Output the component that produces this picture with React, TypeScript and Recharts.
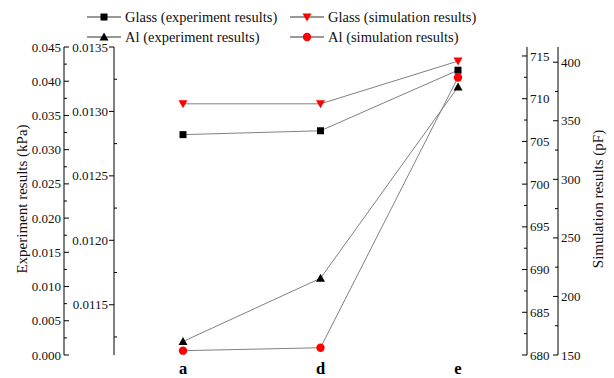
import { LineChart, Line, XAxis, YAxis } from 'recharts';

const categories = ['a', 'd', 'e'];
const glassExperiment = [0.01282, 0.01285, 0.01332];
const glassSimulation = [709.4, 709.4, 714.4];
const alExperiment = [0.00197, 0.01121, 0.03916];
const alSimulation = [153.7, 156.2, 387];

const alExpTicks = [
  0, 0.0025, 0.005, 0.0075, 0.01, 0.0125, 0.015, 0.0175, 0.02, 0.0225, 0.025,
  0.0275, 0.03, 0.0325, 0.035, 0.0375, 0.04, 0.0425, 0.045,
];
const glassExpTicks = [
  0.01125, 0.0115, 0.01175, 0.012, 0.01225, 0.0125, 0.01275, 0.013, 0.01325, 0.0135,
];
const glassSimTicks = [
  680, 682.5, 685, 687.5, 690, 692.5, 695, 697.5, 700, 702.5, 705, 707.5, 710, 712.5, 715,
];
const alSimTicks = [150, 175, 200, 225, 250, 275, 300, 325, 350, 375, 400];
const frameTicks = [1, 2, 3, 4, 5];

const data = categories.map((name, i) => ({
  name,
  glassExp: glassExperiment[i],
  glassSim: glassSimulation[i],
  alExp: alExperiment[i],
  alSim: alSimulation[i],
}));

const FONT = '"Liberation Serif", "Times New Roman", serif';
const LINE = '#808080';

const isMajor = (v: number, step: number) => Math.abs(v / step - Math.round(v / step)) < 1e-6;

type TickOpts = {
  side: 'left' | 'right';
  step: number;
  digits: number;
  majorDir: number;
  minorDir: number;
  gap: number;
};

const makeYTick = (o: TickOpts) => (props: any) => {
  const { x, y, payload } = props;
  const v = payload.value as number;
  const major = isMajor(v, o.step);
  const len = major ? 5 : 3;
  const dir = major ? o.majorDir : o.minorDir;
  return (
    <g>
      <line x1={x} x2={x + dir * len} y1={y} y2={y} stroke="#000" strokeWidth={1} />
      {major && (
        <text
          x={o.side === 'left' ? x - o.gap : x + o.gap}
          y={y}
          dy="0.35em"
          textAnchor={o.side === 'left' ? 'end' : 'start'}
          style={{ fontFamily: FONT, fontSize: 13 }}
          fill="#111"
        >
          {v.toFixed(o.digits)}
        </text>
      )}
    </g>
  );
};

const frameTick = (dir: number) => (props: any) => {
  const { x, y } = props;
  return <line x1={x} x2={x} y1={y} y2={y + dir * 4} stroke="#000" strokeWidth={1} />;
};

const CategoryTick = (props: any) => {
  const { x, y, payload } = props;
  return (
    <text
      x={x}
      y={y + 19}
      textAnchor="middle"
      style={{ fontFamily: FONT, fontSize: 16.5, fontWeight: 'bold' }}
      fill="#000"
    >
      {payload.value}
    </text>
  );
};

const Square = ({ cx, cy }: { cx: number; cy: number }) => (
  <rect x={cx - 3.5} y={cy - 3.5} width={7} height={7} fill="#000" />
);
const TriDown = ({ cx, cy }: { cx: number; cy: number }) => (
  <path d={`M${cx - 4.5},${cy - 3.5}L${cx + 4.5},${cy - 3.5}L${cx},${cy + 4.5}Z`} fill="#ff0000" />
);
const TriUp = ({ cx, cy }: { cx: number; cy: number }) => (
  <path d={`M${cx - 4.5},${cy + 3.5}L${cx + 4.5},${cy + 3.5}L${cx},${cy - 4.5}Z`} fill="#000" />
);
const Dot = ({ cx, cy }: { cx: number; cy: number }) => <circle cx={cx} cy={cy} r={4.2} fill="#ff0000" />;

const dotOf = (Shape: any) => (p: any) => (
  <g key={`${p.dataKey}-${p.index}`}>
    <Shape cx={p.cx} cy={p.cy} />
  </g>
);

const legendItems = [
  { x: 87, y: 17, label: 'Glass (experiment results)', Shape: Square },
  { x: 290, y: 17, label: 'Glass (simulation results)', Shape: TriDown },
  { x: 87, y: 37, label: 'Al (experiment results)', Shape: TriUp },
  { x: 290, y: 37, label: 'Al (simulation results)', Shape: Dot },
];

export default function App() {
  return (
    <div style={{ position: 'absolute', left: 0, top: 0, width: 614, height: 378, background: '#fff', fontFamily: FONT }}>
      <LineChart width={614} height={378} data={data} margin={{ top: 47, right: 0, bottom: 0, left: 0 }}>
        <XAxis
          xAxisId="frameBottom"
          type="number"
          domain={[0, 6]}
          ticks={frameTicks}
          height={0}
          tickSize={0}
          tickMargin={0}
          interval={0}
          axisLine={{ stroke: '#000' }}
          tickLine={false}
          tick={frameTick(-1)}
        />
        <XAxis
          xAxisId="cat"
          dataKey="name"
          height={23}
          padding={{ left: 69, right: 69 }}
          axisLine={false}
          tickLine={false}
          tickSize={0}
          tickMargin={0}
          interval={0}
          tick={CategoryTick}
        />
        <XAxis
          xAxisId="frameTop"
          orientation="top"
          type="number"
          domain={[0, 6]}
          ticks={frameTicks}
          height={0}
          tickSize={0}
          tickMargin={0}
          interval={0}
          axisLine={{ stroke: '#000' }}
          tickLine={false}
          tick={frameTick(1)}
        />
        {/* left: glass experiment on the plot edge, Al experiment outside */}
        <YAxis
          yAxisId="leftInner"
          orientation="left"
          width={50}
          type="number"
          domain={[0.01111, 0.0135]}
          allowDataOverflow
          ticks={glassExpTicks}
          interval={0}
          tickSize={0}
          tickMargin={0}
          tickLine={false}
          axisLine={{ stroke: '#000' }}
          tick={makeYTick({ side: 'left', step: 0.0005, digits: 4, majorDir: -1, minorDir: 1, gap: 6 })}
        />
        <YAxis
          yAxisId="leftOuter"
          orientation="left"
          width={64}
          type="number"
          domain={[0, 0.045]}
          allowDataOverflow
          ticks={alExpTicks}
          interval={0}
          tickSize={0}
          tickMargin={0}
          tickLine={false}
          axisLine={{ stroke: '#000' }}
          tick={makeYTick({ side: 'left', step: 0.005, digits: 3, majorDir: 1, minorDir: 1, gap: 3 })}
        />
        {/* right: glass simulation on the plot edge, Al simulation outside */}
        <YAxis
          yAxisId="rightInner"
          orientation="right"
          width={31}
          type="number"
          domain={[680, 716.05]}
          allowDataOverflow
          ticks={glassSimTicks}
          interval={0}
          tickSize={0}
          tickMargin={0}
          tickLine={false}
          axisLine={{ stroke: '#000' }}
          tick={makeYTick({ side: 'right', step: 5, digits: 0, majorDir: -1, minorDir: -1, gap: 3 })}
        />
        <YAxis
          yAxisId="rightOuter"
          orientation="right"
          width={56}
          type="number"
          domain={[150, 413]}
          allowDataOverflow
          ticks={alSimTicks}
          interval={0}
          tickSize={0}
          tickMargin={0}
          tickLine={false}
          axisLine={{ stroke: '#000' }}
          tick={makeYTick({ side: 'right', step: 50, digits: 0, majorDir: -1, minorDir: -1, gap: 3 })}
        />
        <Line
          xAxisId="cat"
          yAxisId="leftInner"
          dataKey="glassExp"
          stroke={LINE}
          strokeWidth={1}
          dot={dotOf(Square)}
          activeDot={false}
          isAnimationActive={false}
        />
        <Line
          xAxisId="cat"
          yAxisId="rightInner"
          dataKey="glassSim"
          stroke={LINE}
          strokeWidth={1}
          dot={dotOf(TriDown)}
          activeDot={false}
          isAnimationActive={false}
        />
        <Line
          xAxisId="cat"
          yAxisId="leftOuter"
          dataKey="alExp"
          stroke={LINE}
          strokeWidth={1}
          dot={dotOf(TriUp)}
          activeDot={false}
          isAnimationActive={false}
        />
        <Line
          xAxisId="cat"
          yAxisId="rightOuter"
          dataKey="alSim"
          stroke={LINE}
          strokeWidth={1}
          dot={dotOf(Dot)}
          activeDot={false}
          isAnimationActive={false}
        />
      </LineChart>

      {legendItems.map(({ x, y, label, Shape }) => (
        <div
          key={label}
          style={{
            position: 'absolute',
            left: x,
            top: y - 9,
            height: 18,
            display: 'flex',
            alignItems: 'center',
            whiteSpace: 'nowrap',
            fontSize: 14.5,
            color: '#111',
          }}
        >
          <svg width={34} height={12}>
            <line x1={0} x2={34} y1={6} y2={6} stroke="#333" strokeWidth={1} />
            <Shape cx={17} cy={6} />
          </svg>
          <span style={{ marginLeft: 4 }}>{label}</span>
        </div>
      ))}

      <div
        style={{
          position: 'absolute',
          left: 22,
          top: 199,
          transform: 'translate(-50%, -50%) rotate(-90deg)',
          whiteSpace: 'nowrap',
          fontSize: 15,
          color: '#111',
        }}
      >
        Experiment results (kPa)
      </div>
      <div
        style={{
          position: 'absolute',
          left: 598,
          top: 199,
          transform: 'translate(-50%, -50%) rotate(-90deg)',
          whiteSpace: 'nowrap',
          fontSize: 15,
          color: '#111',
        }}
      >
        Simulation results (pF)
      </div>
    </div>
  );
}
